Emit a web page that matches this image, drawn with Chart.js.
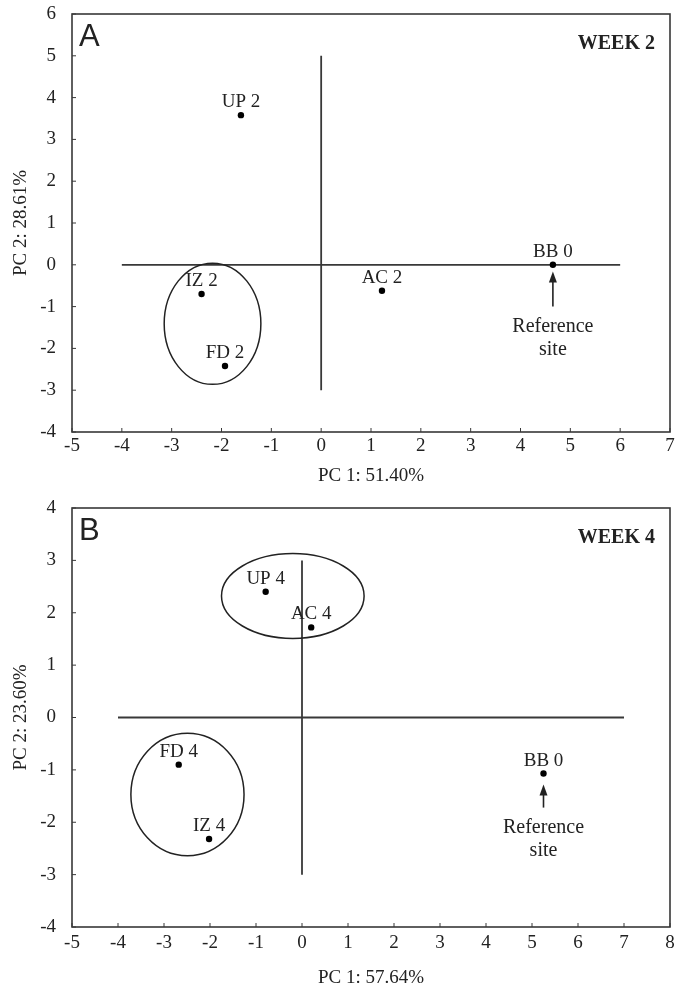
<!DOCTYPE html>
<html>
<head>
<meta charset="utf-8">
<title>PCA week 2 / week 4</title>
<script src="https://cdn.jsdelivr.net/npm/chart.js@4.4.1/dist/chart.umd.min.js"></script>
<style>
  html, body { margin: 0; padding: 0; background: #fff; }
  .panel { position: relative; width: 683px; }
  #panelA { height: 488px; }
  #panelB { height: 496px; }
</style>
</head>
<body>
<div class="panel" id="panelA"><canvas id="chartA"></canvas></div>
<div class="panel" id="panelB"><canvas id="chartB"></canvas></div>
<script>
// ════════════════════════════════════════
//  DATA — PCA scores
// ════════════════════════════════════════

// Panel A — week 2
const SITES_A = ['UP 2', 'IZ 2', 'FD 2', 'AC 2', 'BB 0'];
const PC1_A   = [-1.61, -2.40, -1.93, 1.22, 4.65];
const PC2_A   = [ 3.58, -0.70, -2.42, -0.62, 0.00];
const X_TICKS_A = [-5, 7];          // min / max of PC 1 axis
const Y_TICKS_A = [-4, 6];          // min / max of PC 2 axis
const H_LINE_A  = [-4, 6];          // x span of the y = 0 line
const V_LINE_A  = [-3, 5];          // y span of the x = 0 line
const GROUPS_A  = [[-2.18, -1.41, 0.97, 1.45]];   // centre x, centre y, radius x, radius y
const ARROW_A   = [4.65, -1.00, -0.16];           // x, tail y, tip y

// Panel B — week 4
const SITES_B = ['UP 4', 'AC 4', 'FD 4', 'IZ 4', 'BB 0'];
const PC1_B   = [-0.79, 0.20, -2.68, -2.02, 5.25];
const PC2_B   = [ 2.40, 1.72, -0.90, -2.32, -1.07];
const X_TICKS_B = [-5, 8];
const Y_TICKS_B = [-4, 4];
const H_LINE_B  = [-4, 7];
const V_LINE_B  = [-3, 3];
const GROUPS_B  = [[-0.20, 2.32, 1.55, 0.81], [-2.49, -1.47, 1.23, 1.17]];
const ARROW_B   = [5.25, -1.72, -1.28];

// ── Styles ──────────────────────────────
const INK   = '#222';
const LINE  = '#383838';
const SERIF = "'Liberation Serif', 'Times New Roman', serif";

Chart.defaults.font.family = SERIF;
Chart.defaults.color = INK;

// ── Decorations: frame, inner ticks, groups, labels, arrow ──
function makeDecor(cfg) {
  return {
    id: 'pcaDecor',
    afterDatasetsDraw(chart) {
      const { ctx, chartArea: a, scales: { x, y } } = chart;
      ctx.save();

      // frame
      ctx.strokeStyle = LINE;
      ctx.lineWidth = 1.6;
      ctx.strokeRect(a.left, a.top, a.right - a.left, a.bottom - a.top);

      // tick marks pointing inwards
      ctx.lineWidth = 1;
      ctx.beginPath();
      x.ticks.forEach(t => {
        const px = x.getPixelForValue(t.value);
        ctx.moveTo(px, a.bottom); ctx.lineTo(px, a.bottom - 4);
      });
      y.ticks.forEach(t => {
        const py = y.getPixelForValue(t.value);
        ctx.moveTo(a.left, py); ctx.lineTo(a.left + 4, py);
      });
      ctx.stroke();

      // group ellipses
      ctx.strokeStyle = INK;
      ctx.lineWidth = 1.5;
      cfg.groups.forEach(([cx, cy, rx, ry]) => {
        const px  = x.getPixelForValue(cx);
        const py  = y.getPixelForValue(cy);
        const prx = Math.abs(x.getPixelForValue(cx + rx) - px);
        const pry = Math.abs(y.getPixelForValue(cy + ry) - py);
        ctx.beginPath();
        ctx.ellipse(px, py, prx, pry, 0, 0, Math.PI * 2);
        ctx.stroke();
      });

      // site labels above the points
      ctx.fillStyle = INK;
      ctx.font = `19px ${SERIF}`;
      ctx.textAlign = 'center';
      ctx.textBaseline = 'alphabetic';
      cfg.names.forEach((name, i) => {
        const px = x.getPixelForValue(cfg.pc1[i]);
        const py = y.getPixelForValue(cfg.pc2[i]);
        ctx.fillText(name, px, py - 8);
      });

      // arrow to the reference site
      const [ax, ay0, ay1] = cfg.arrow;
      const apx  = x.getPixelForValue(ax);
      const tail = y.getPixelForValue(ay0);
      const tip  = y.getPixelForValue(ay1);
      ctx.strokeStyle = INK;
      ctx.lineWidth = 1.6;
      ctx.beginPath();
      ctx.moveTo(apx, tail); ctx.lineTo(apx, tip + 8);
      ctx.stroke();
      ctx.beginPath();
      ctx.moveTo(apx, tip);
      ctx.lineTo(apx - 4, tip + 11);
      ctx.lineTo(apx + 4, tip + 11);
      ctx.closePath();
      ctx.fill();

      ctx.font = `20px ${SERIF}`;
      ctx.textBaseline = 'middle';
      ctx.fillText('Reference', apx, tail + 20);
      ctx.fillText('site', apx, tail + 43);

      // panel letter and week tag
      ctx.textBaseline = 'alphabetic';
      ctx.textAlign = 'left';
      ctx.font = "31px 'Liberation Sans', Arial, sans-serif";
      ctx.fillText(cfg.letter, a.left + 7, a.top + 32);
      ctx.textAlign = 'right';
      ctx.font = `bold 20px ${SERIF}`;
      ctx.fillText(cfg.week, a.right - 15, a.top + 35);

      ctx.restore();
    }
  };
}

// ════════════════════════════════════════
//  Build one PCA panel
// ════════════════════════════════════════
function buildPanel(canvasId, cfg) {
  const lineDs = pts => ({
    type: 'line',
    data: pts,
    borderColor: LINE,
    borderWidth: 1.8,
    pointRadius: 0,
    fill: false,
    tension: 0
  });

  return new Chart(document.getElementById(canvasId), {
    type: 'scatter',
    data: {
      datasets: [
        {
          label: 'sites',
          data: cfg.pc1.map((v, i) => ({ x: v, y: cfg.pc2[i] })),
          backgroundColor: '#000',
          borderWidth: 0,
          pointRadius: 3.2
        },
        lineDs(cfg.hLine.map(v => ({ x: v, y: 0 }))),
        lineDs(cfg.vLine.map(v => ({ x: 0, y: v })))
      ]
    },
    options: {
      responsive: true,
      maintainAspectRatio: false,
      animation: false,
      layout: { padding: { top: cfg.top, right: 13, bottom: 0, left: 0 } },
      plugins: { legend: { display: false }, tooltip: { enabled: false } },
      scales: {
        x: {
          type: 'linear',
          min: cfg.xTicks[0],
          max: cfg.xTicks[1],
          grid: { display: false, drawTicks: false },
          border: { display: false },
          ticks: { stepSize: 1, padding: cfg.xPad, font: { size: 19 }, color: INK, maxRotation: 0 },
          title: { display: true, text: cfg.xTitle, font: { size: 19 }, color: INK, padding: { top: 0, bottom: cfg.titlePad } },
          afterFit: s => { s.height = cfg.xHeight; }
        },
        y: {
          type: 'linear',
          min: cfg.yTicks[0],
          max: cfg.yTicks[1],
          // hidden tick length keeps the labels clear of the frame
          grid: { display: false, drawTicks: true, tickLength: 14 },
          border: { display: false },
          ticks: { stepSize: 1, padding: 2, font: { size: 19 }, color: INK },
          title: { display: true, text: cfg.yTitle, font: { size: 19 }, color: INK, padding: { top: 10, bottom: 0 } },
          afterFit: s => { s.width = 72; }
        }
      }
    },
    plugins: [makeDecor(cfg)]
  });
}

buildPanel('chartA', {
  names: SITES_A, pc1: PC1_A, pc2: PC2_A,
  xTicks: X_TICKS_A, yTicks: Y_TICKS_A,
  hLine: H_LINE_A, vLine: V_LINE_A,
  groups: GROUPS_A, arrow: ARROW_A,
  letter: 'A', week: 'WEEK 2',
  xTitle: 'PC 1: 51.40%', yTitle: 'PC 2: 28.61%',
  top: 14, xHeight: 56, xPad: 3, titlePad: 1
});

buildPanel('chartB', {
  names: SITES_B, pc1: PC1_B, pc2: PC2_B,
  xTicks: X_TICKS_B, yTicks: Y_TICKS_B,
  hLine: H_LINE_B, vLine: V_LINE_B,
  groups: GROUPS_B, arrow: ARROW_B,
  letter: 'B', week: 'WEEK 4',
  xTitle: 'PC 1: 57.64%', yTitle: 'PC 2: 23.60%',
  top: 20, xHeight: 57, xPad: 5, titlePad: -5
});
</script>
</body>
</html>
